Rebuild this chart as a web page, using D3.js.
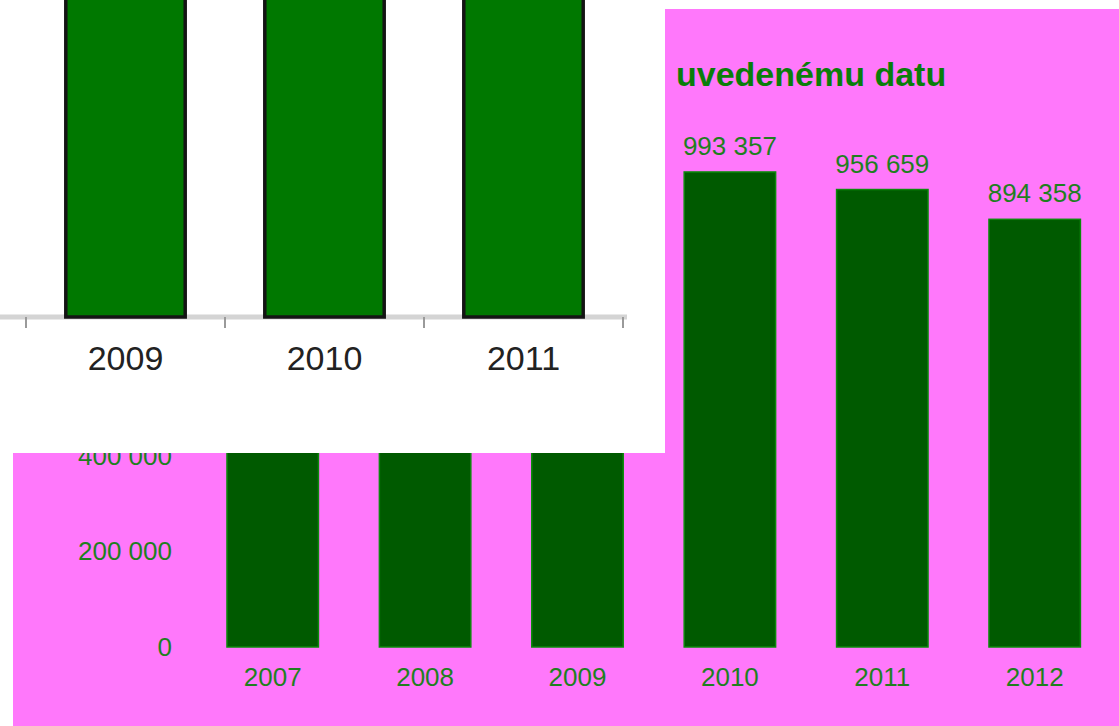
<!DOCTYPE html>
<html>
<head>
<meta charset="utf-8">
<script src="https://cdn.jsdelivr.net/npm/d3@7"></script>
<style>
  html, body { margin: 0; padding: 0; background: #ffffff; }
  svg { display: block; }
</style>
</head>
<body>
<script>
// ---- data ----
const years = ["2007", "2008", "2009", "2010", "2011", "2012"];
const values = [886000, 934000, 967000, 993357, 956659, 894358];
const labeledYears = ["2010", "2011", "2012"];      // value labels visible in the picture
const yTicks = [0, 200000, 400000];                 // tick labels visible in the picture
const titleText = "uvedenému datu";
const insetYears = ["2009", "2010", "2011"];

const W = 1119, H = 726;
const svg = d3.select("body").append("svg").attr("width", W).attr("height", H);
svg.append("rect").attr("width", W).attr("height", H).attr("fill", "#ffffff");

// ---- pink chart ----
const pink = svg.append("g");
pink.append("rect").attr("x", 13).attr("y", 9).attr("width", W - 13).attr("height", H - 9).attr("fill", "#ff78fb");

const x = d3.scaleBand().domain(years).range([196.5, 1110.9]).paddingInner(0.4).paddingOuter(0.2);
const y = d3.scaleLinear().domain([0, 1000000]).range([647, 168.8]);
const fmt = v => d3.format(",")(v).replace(/,/g, " ");
const textGreen = "#1f7f1f";
const font = "'Liberation Sans', Arial, sans-serif";
const valOf = yr => values[years.indexOf(yr)];

pink.append("g").selectAll("rect").data(years).join("rect")
  .attr("x", d => x(d)).attr("y", (d, i) => y(values[i]))
  .attr("width", x.bandwidth()).attr("height", (d, i) => y(0) - y(values[i]))
  .attr("fill", "#005a00").attr("stroke", "#0b8a0b").attr("stroke-width", 1.5);

pink.append("g").selectAll("text").data(labeledYears).join("text")
  .attr("x", d => x(d) + x.bandwidth() / 2).attr("y", d => y(valOf(d)) - 17)
  .attr("text-anchor", "middle").attr("font-family", font).attr("font-size", 26)
  .attr("fill", textGreen).text(d => fmt(valOf(d)));

const xAxis = pink.append("g").attr("transform", `translate(0,${y(0)})`)
  .call(d3.axisBottom(x).tickSize(0).tickPadding(21));
xAxis.select(".domain").remove();
xAxis.selectAll("text").attr("font-family", font).attr("font-size", 26).attr("fill", textGreen);

const yAxis = pink.append("g").attr("transform", "translate(172,0)")
  .call(d3.axisLeft(y).tickValues(yTicks).tickSize(0).tickPadding(0).tickFormat(fmt));
yAxis.select(".domain").remove();
yAxis.selectAll("text").attr("font-family", font).attr("font-size", 26).attr("fill", textGreen);

pink.append("text").attr("x", 676).attr("y", 86)
  .attr("font-family", font).attr("font-weight", "bold").attr("font-size", 34)
  .attr("fill", "#0a7d0a").text(titleText);

// ---- white inset chart ----
const inset = svg.append("g");
inset.append("rect").attr("x", 0).attr("y", 0).attr("width", 665).attr("height", 453).attr("fill", "#ffffff");

const ix = d3.scaleBand().domain(insetYears).range([26, 623]).paddingInner(0.4).paddingOuter(0.2);
const iy = d3.scaleLinear().domain([0, 600000]).range([317, 0]);

const clip = inset.append("clipPath").attr("id", "insetClip");
clip.append("rect").attr("x", 0).attr("y", 0).attr("width", 665).attr("height", 453);

const ig = inset.append("g").attr("clip-path", "url(#insetClip)");

ig.append("line").attr("x1", 0).attr("x2", 627).attr("y1", iy(0)).attr("y2", iy(0))
  .attr("stroke", "#d4d4d4").attr("stroke-width", 5);

ig.append("g").selectAll("rect").data(insetYears).join("rect")
  .attr("x", d => ix(d)).attr("y", d => iy(valOf(d)))
  .attr("width", ix.bandwidth()).attr("height", d => iy(0) - iy(valOf(d)))
  .attr("fill", "#007800").attr("stroke", "#141414").attr("stroke-width", 3.5);

const gap = (ix.step() - ix.bandwidth()) / 2;
const tickPos = insetYears.map(d => ix(d) - gap);
tickPos.push(ix(insetYears[insetYears.length - 1]) + ix.bandwidth() + gap);
ig.append("g").selectAll("line").data(tickPos).join("line")
  .attr("x1", d => d).attr("x2", d => d).attr("y1", iy(0)).attr("y2", iy(0) + 11)
  .attr("stroke", "#9a9a9a").attr("stroke-width", 2);

ig.append("g").selectAll("text").data(insetYears).join("text")
  .attr("x", d => ix(d) + ix.bandwidth() / 2).attr("y", 370)
  .attr("text-anchor", "middle").attr("font-family", font).attr("font-size", 34)
  .attr("fill", "#222222").text(d => d);
</script>
</body>
</html>
